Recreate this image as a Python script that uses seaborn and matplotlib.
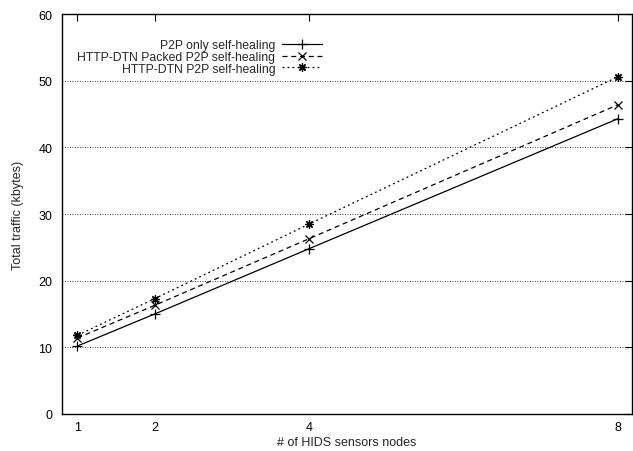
import pandas as pd
import matplotlib
matplotlib.use("Agg")
import matplotlib.pyplot as plt
import seaborn as sns

nodes = [1, 2, 4, 8]
p2p_only = [10.2, 15.0, 24.8, 44.3]
dtn_packed = [11.4, 16.3, 26.3, 46.4]
dtn_p2p = [11.8, 17.3, 28.5, 50.6]

labels = ["P2P only self-healing",
          "HTTP-DTN Packed P2P self-healing",
          "HTTP-DTN P2P self-healing"]

sns.set_style("white")
plt.rcParams['font.family'] = ['Liberation Sans', 'DejaVu Sans']
plt.rcParams['font.size'] = 9

fig = plt.figure(figsize=(6.33, 4.52), dpi=100)
ax = fig.add_axes([62 / 633, 37 / 452, 570 / 633, 400 / 452])

styles = [
    dict(marker='+', linestyle='-', markersize=7),
    dict(marker='x', linestyle=(0, (4, 3)), markersize=5.5),
    dict(marker=(8, 2, 0), linestyle=(0, (1.5, 2.5)), markersize=6),
]
for vals, lab, st in zip([p2p_only, dtn_packed, dtn_p2p], labels, styles):
    df = pd.DataFrame({'nodes': nodes, 'traffic': vals})
    sns.lineplot(data=df, x='nodes', y='traffic', ax=ax, color='black',
                 linewidth=0.9, markeredgewidth=0.9, markeredgecolor='black',
                 label=lab, marker=st['marker'], markersize=st['markersize'],
                 linestyle=st['linestyle'])

ax.set_xlim(0.8, 8.18)
ax.set_ylim(0, 60)
ax.set_xticks(nodes)
ax.set_yticks(range(0, 61, 10))
ax.yaxis.grid(True, color='black', linestyle=(0, (1, 2)), linewidth=0.6)
ax.xaxis.grid(False)
ax.tick_params(direction='in', length=5, width=0.8, top=True, right=True,
               labelsize=9, pad=7, colors='black')
ax.tick_params(axis='x', pad=5)
for sp in ax.spines.values():
    sp.set_color('black')
    sp.set_linewidth(1.0)

ax.set_xlabel("# of HIDS sensors nodes", fontsize=9, labelpad=2)
ax.set_ylabel("Total traffic (kbytes)", fontsize=9, labelpad=10)

leg = ax.legend(loc='upper right', bbox_to_anchor=(328 / 633, 1 - 34 / 452),
                bbox_transform=fig.transFigure, markerfirst=False,
                frameon=False, fontsize=8.8, handlelength=3.3,
                handletextpad=0.5, labelspacing=-0.02, borderpad=0)
for col in leg._legend_handle_box.get_children():
    col.align = 'right'

fig.savefig("out.png", dpi=100)
